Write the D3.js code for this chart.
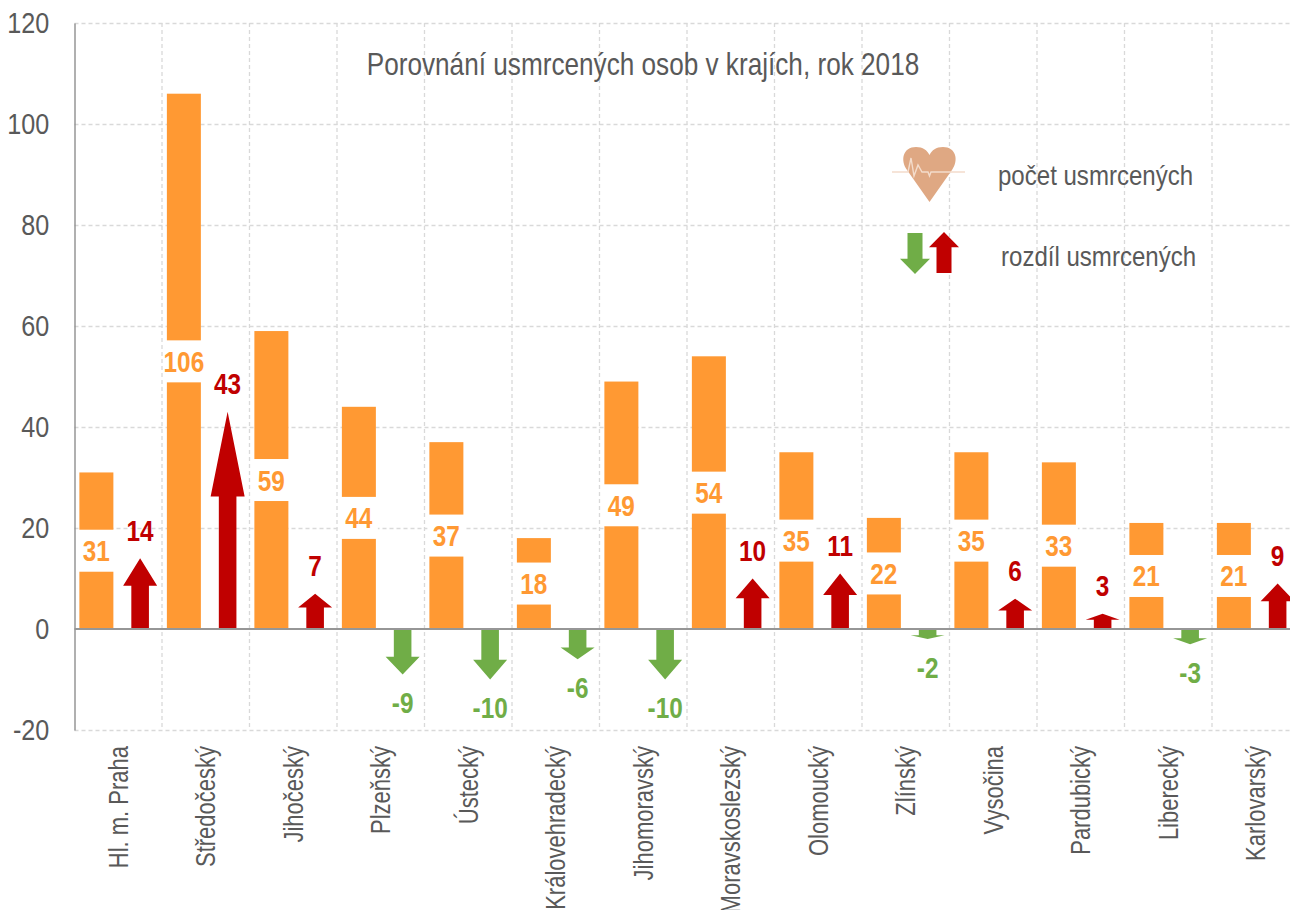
<!DOCTYPE html>
<html>
<head>
<meta charset="utf-8">
<script src="https://cdn.jsdelivr.net/npm/d3@7"></script>
<style>
    html, body { margin: 0; padding: 0; background: #fff; overflow: hidden; }
    text { font-family: "Liberation Sans", sans-serif; }
</style>
</head>
<body>
<svg id="chart" width="1290" height="910"></svg>
<script>
const regions = ["Hl. m. Praha", "Středočeský", "Jihočeský", "Plzeňský", "Ústecký", "Královehradecký", "Jihomoravský",
    "Moravskoslezský", "Olomoucký", "Zlínský", "Vysočina", "Pardubický", "Liberecký", "Karlovarský"];
const deaths = [31, 106, 59, 44, 37, 18, 49, 54, 35, 22, 35, 33, 21, 21];
const differences = [14, 43, 7, -9, -10, -6, -10, 10, 11, -2, 6, 3, -3, 9];
const yTicks = [-20, 0, 20, 40, 60, 80, 100, 120];

const orange = "#ff9933";
const red = "#c00000";
const green = "#70ad47";
const grey = "#595959";
const narrow = 0.84; //no narrow font here, so squeeze the text sideways

const svg = d3.select("#chart");

const y = d3.scaleLinear().domain([-20, 120]).range([730, 23]);
const x = d3.scaleBand().domain(regions).range([74.5, 74.5 + 87.5 * regions.length]);
const barWidth = 34;

//text squeezed horizontally around its anchor
function narrowText(selection, xFn, yFn, scale = narrow) {
    return selection.attr("transform", (d, i) => `translate(${xFn(d, i)},${yFn(d, i)}) scale(${scale},1)`);
}

//vertical gridlines sit on the category borders
const grid = svg.append("g");
grid.selectAll(".vGrid")
    .data(regions.map(r => x(r) + x.step()))
    .join("line")
    .attr("x1", d => d).attr("x2", d => d)
    .attr("y1", y(120)).attr("y2", y(-20))
    .attr("stroke", "#d9d9d9").attr("stroke-width", 1.3).attr("stroke-dasharray", "4 3");
grid.selectAll(".hGrid")
    .data(yTicks.filter(d => d !== 0))
    .join("line")
    .attr("x1", x.range()[0]).attr("x2", 1290)
    .attr("y1", d => y(d) + 0.5).attr("y2", d => y(d) + 0.5)
    .attr("stroke", "#d9d9d9").attr("stroke-width", 1.3).attr("stroke-dasharray", "4 3");

//y axis
const yAxis = svg.append("g").attr("transform", "translate(74.5,0)")
    .call(d3.axisLeft(y).tickValues(yTicks).tickSize(0).tickPadding(30).tickFormat(d => String(d)));
yAxis.select(".domain").attr("stroke", "#868686").attr("stroke-width", 1.3);
yAxis.selectAll("text")
    .attr("font-size", 30).attr("fill", grey)
    .attr("transform", "scale(0.84,1)")
    .style("font-family", '"Liberation Sans", sans-serif');

//bars with a white box holding the value in the middle
const barX = d => x(d) + x.step() / 4 - barWidth / 2;
svg.selectAll(".bar")
    .data(regions)
    .join("rect")
    .attr("x", barX)
    .attr("width", barWidth)
    .attr("y", (d, i) => y(deaths[i]))
    .attr("height", (d, i) => y(0) - y(deaths[i]))
    .attr("fill", orange);

svg.selectAll(".barLabelBox")
    .data(regions)
    .join("rect")
    .attr("x", d => barX(d) - 2)
    .attr("width", barWidth + 4)
    .attr("y", (d, i) => y(deaths[i] / 2) - 21)
    .attr("height", 42)
    .attr("fill", "#fff");

svg.selectAll(".barLabel")
    .data(regions)
    .join("text")
    .attr("text-anchor", "middle")
    .attr("font-size", 29).attr("font-weight", "bold")
    .attr("fill", orange)
    .text((d, i) => deaths[i])
    .call(narrowText, d => x(d) + x.step() / 4, (d, i) => y(deaths[i] / 2) + 10.5);

//arrow from base to tip, head takes a fixed share of the length
function arrowPath(cx, base, tip, headShare = 0.39, halfHead = 17, halfShaft = 8.8) {
    const headBase = tip + (base - tip) * headShare;
    const p = d3.path();
    p.moveTo(cx - halfShaft, base);
    p.lineTo(cx - halfShaft, headBase);
    p.lineTo(cx - halfHead, headBase);
    p.lineTo(cx, tip);
    p.lineTo(cx + halfHead, headBase);
    p.lineTo(cx + halfShaft, headBase);
    p.lineTo(cx + halfShaft, base);
    p.closePath();
    return p.toString();
}

const arrowX = d => x(d) + x.step() * 3 / 4;
svg.selectAll(".arrow")
    .data(regions)
    .join("path")
    .attr("d", (d, i) => arrowPath(arrowX(d), y(0), y(differences[i])))
    .attr("fill", (d, i) => differences[i] > 0 ? red : green);

svg.selectAll(".arrowLabel")
    .data(regions)
    .join("text")
    .attr("text-anchor", "middle")
    .attr("font-size", 29).attr("font-weight", "bold")
    .attr("fill", (d, i) => differences[i] > 0 ? red : green)
    .text((d, i) => differences[i])
    .call(narrowText, arrowX, (d, i) => y(differences[i]) + (differences[i] > 0 ? -17.5 : 38.5));

//zero line on top of the bars
svg.append("line")
    .attr("x1", x.range()[0]).attr("x2", 1290)
    .attr("y1", y(0)).attr("y2", y(0))
    .attr("stroke", "#969696").attr("stroke-width", 2);

//rotated category labels, the long ones run off the bottom like in the original
svg.selectAll(".regionLabel")
    .data(regions)
    .join("text")
    .attr("transform", d => `translate(${x(d) + x.step() / 2 + 9.5},746) rotate(-90) scale(0.8,1)`)
    .attr("text-anchor", "end")
    .attr("font-size", 27.5)
    .attr("fill", grey)
    .text(d => d);

svg.append("text")
    .attr("text-anchor", "middle")
    .attr("font-size", 30.5)
    .attr("fill", grey)
    .attr("transform", "translate(643,75) scale(0.858,1)")
    .text("Porovnání usmrcených osob v krajích, rok 2018");

//legend: heart
svg.append("path")
    .attr("d", "M929.5 202 L907 170 C900 160 903 147 916 147 C923 147 927 150 929.5 155 C932 150 936 147 943 147 C956 147 959 160 952 170 Z")
    .attr("fill", "#dfa883");
svg.append("path")
    .attr("d", "M892 172 H908 L911 158 L914 176 L918 165 L922 172 L928 172 L929.5 176 L931 172 H965")
    .attr("fill", "none").attr("stroke", "#f4dccb").attr("stroke-width", 1.4);

svg.append("text")
    .attr("font-size", 28.5).attr("fill", grey)
    .attr("transform", "translate(998,185) scale(0.844,1)")
    .text("počet usmrcených");

//legend: arrows
svg.append("path").attr("d", arrowPath(915, 233, 274, 0.37, 15, 7.5)).attr("fill", green);
svg.append("path").attr("d", arrowPath(944, 273, 232, 0.37, 15, 7.5)).attr("fill", red);
svg.append("text")
    .attr("font-size", 28.5).attr("fill", grey)
    .attr("transform", "translate(1001,266) scale(0.844,1)")
    .text("rozdíl usmrcených");
</script>
</body>
</html>
